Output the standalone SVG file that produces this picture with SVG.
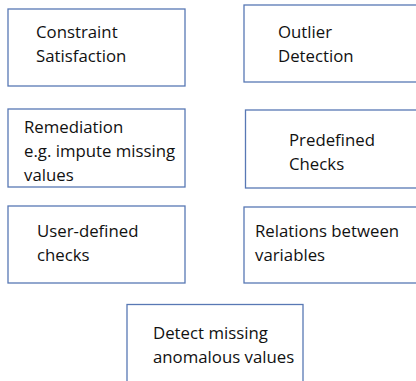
<svg xmlns="http://www.w3.org/2000/svg" width="416" height="381" viewBox="0 0 416 381">
<style>
.box{fill:#fff;stroke:#5878B4;stroke-width:1.3}
.t{font-family:"Open Sans","Liberation Sans",sans-serif;font-size:16.8px;fill:#111}
</style>
<rect width="416" height="381" fill="#fff"/>
<g id="constraint-satisfaction"><rect class="box" x="8" y="9" width="177" height="77"/><text class="t" x="36" y="38">Constraint</text><text class="t" x="36" y="62">Satisfaction</text></g>
<g id="outlier-detection"><rect class="box" x="244" y="5" width="180" height="77"/><text class="t" x="278" y="38">Outlier</text><text class="t" x="278" y="62">Detection</text></g>
<g id="remediation"><rect class="box" x="8" y="109" width="177" height="78"/><text class="t" x="24" y="133">Remediation</text><text class="t" x="24" y="157">e.g. impute missing</text><text class="t" x="24" y="181">values</text></g>
<g id="predefined-checks"><rect class="box" x="245.5" y="110" width="180" height="78"/><text class="t" x="289" y="146">Predefined</text><text class="t" x="289" y="170">Checks</text></g>
<g id="user-defined-checks"><rect class="box" x="8" y="206" width="177" height="77"/><text class="t" x="37" y="237">User-defined</text><text class="t" x="37" y="261">checks</text></g>
<g id="relations-between-variables"><rect class="box" x="244" y="207" width="180" height="76"/><text class="t" x="255" y="237">Relations between</text><text class="t" x="255" y="261">variables</text></g>
<g id="detect-missing"><rect class="box" x="127" y="304.5" width="176" height="90"/><text class="t" x="153" y="339">Detect missing</text><text class="t" x="153" y="363">anomalous values</text></g>
<g id="connectors"/>
</svg>
